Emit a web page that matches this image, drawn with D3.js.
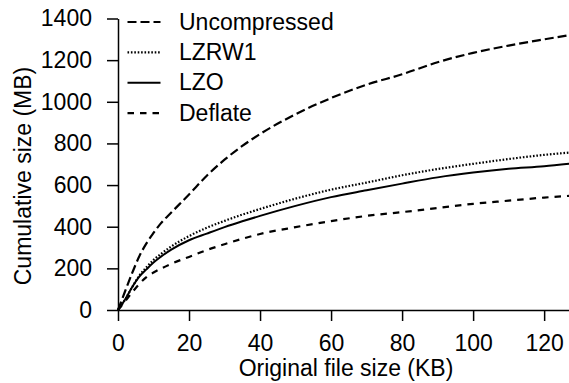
<!DOCTYPE html>
<html>
<head>
<meta charset="utf-8">
<script src="https://cdnjs.cloudflare.com/ajax/libs/d3/7.8.5/d3.min.js"></script>
<style>
  body { margin: 0; background: #fff; }
  svg { display: block; font-family: "Liberation Sans", Arial, Helvetica, sans-serif; }
</style>
</head>
<body>
<div id="chart"></div>
<script>
let fileSizeKB   = [0, 2, 4, 6, 8, 10, 12, 15, 20, 25, 30, 35, 40, 50, 60, 70, 80, 90, 100, 110, 120, 127];
let uncompressed = [0, 90, 178, 258, 320, 370, 415, 468, 555, 645, 722, 788, 845, 940, 1018, 1082, 1132, 1190, 1235, 1270, 1300, 1320];
let lzrw1        = [0, 50, 110, 165, 205, 240, 268, 305, 355, 395, 428, 458, 485, 535, 578, 612, 647, 677, 702, 725, 745, 756];
let lzo          = [0, 50, 110, 160, 195, 228, 255, 290, 335, 367, 398, 426, 452, 500, 542, 575, 607, 637, 660, 678, 690, 702];
let deflate      = [0, 42, 85, 125, 158, 180, 198, 222, 255, 288, 316, 342, 365, 398, 427, 452, 470, 490, 510, 525, 540, 548];

let seriesNames = ["Uncompressed", "LZRW1", "LZO", "Deflate"];
let xTicks = [0, 20, 40, 60, 80, 100, 120];
let yTicks = [0, 200, 400, 600, 800, 1000, 1200, 1400];

let width = 569, height = 383;
let margin = {top: 18.5, left: 118, bottom: 73, right: 0};
let fontSize = "23px";

let svg = d3.select("#chart")
            .append("svg")
            .attr("width", width)
            .attr("height", height);

let x = d3.scaleLinear()
          .domain([0, 127])
          .range([margin.left, width - margin.right]);

let y = d3.scaleLinear()
          .domain([0, 1400])
          .range([height - margin.bottom, margin.top]);

// axes
let xAxis = svg.append("g")
  .attr("transform", "translate(0," + y(0) + ")")
  .call(d3.axisBottom(x).tickValues(xTicks).tickFormat(d3.format("d"))
          .tickSize(11).tickPadding(14).tickSizeOuter(0));

let yAxis = svg.append("g")
  .attr("transform", "translate(" + x(0) + ",0)")
  .call(d3.axisLeft(y).tickValues(yTicks).tickFormat(d3.format("d"))
          .tickSize(11).tickPadding(15).tickSizeOuter(0));

[xAxis, yAxis].forEach(function(a){
  a.attr("font-family", null).attr("font-size", null);
  a.selectAll("path, line").attr("stroke", "#000").attr("stroke-width", 1.5);
  a.selectAll("text").attr("fill", "#000").style("font-size", fontSize);
});

// axis titles
svg.append("text")
  .attr("x", 346)
  .attr("y", 376)
  .attr("text-anchor", "middle")
  .style("font-size", fontSize)
  .text("Original file size (KB)");

svg.append("text")
  .attr("transform", "translate(31,176) rotate(-90)")
  .attr("text-anchor", "middle")
  .style("font-size", fontSize)
  .text("Cumulative size (MB)");

// curves
let series = [
  {name: seriesNames[0], values: uncompressed, dash: "9,4", w: 2.2},
  {name: seriesNames[1], values: lzrw1, dash: "1.6,1.8", w: 2.2},
  {name: seriesNames[2], values: lzo, dash: null, w: 2},
  {name: seriesNames[3], values: deflate, dash: "6.5,6", w: 2.2}
];

let line = d3.line()
  .x(function(d, i){ return x(fileSizeKB[i]); })
  .y(function(d){ return y(d); })
  .curve(d3.curveMonotoneX);

svg.selectAll(".curve")
  .data(series)
  .enter()
  .append("path")
  .attr("class", "curve")
  .attr("d", function(d){ return line(d.values); })
  .attr("fill", "none")
  .attr("stroke", "#000")
  .attr("stroke-width", function(d){ return d.w; })
  .attr("stroke-dasharray", function(d){ return d.dash; });

// legend
let legend = svg.selectAll(".legend")
  .data(series)
  .enter()
  .append("g")
  .attr("class", "legend")
  .attr("transform", function(d, i){ return "translate(0," + (29.5 + i * 30.4) + ")"; });

legend.append("line")
  .attr("x1", 127.5)
  .attr("x2", 160.5)
  .attr("y1", -7.5)
  .attr("y2", -7.5)
  .attr("stroke", "#000")
  .attr("stroke-width", function(d){ return d.w; })
  .attr("stroke-dasharray", function(d){ return d.dash; });

legend.append("text")
  .attr("x", 179)
  .attr("y", 0)
  .style("font-size", fontSize)
  .text(function(d){ return d.name; });
</script>
</body>
</html>
